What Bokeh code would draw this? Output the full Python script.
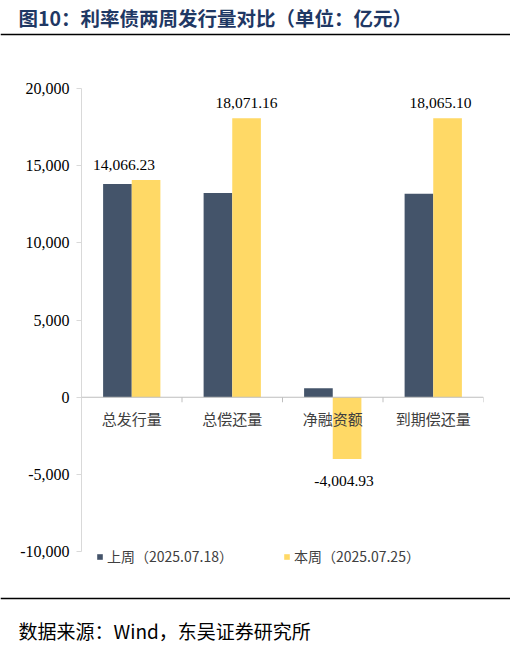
from bokeh.plotting import figure
from bokeh.models import (ColumnDataSource, Range1d, FixedTicker, NumeralTickFormatter,
                          Span, Column)
from bokeh.transform import dodge
from bokeh.core.properties import value
from bokeh.embed import file_html
from bokeh.resources import INLINE

# ---------------- data ----------------
categories = ["总发行量", "总偿还量", "净融资额", "到期偿还量"]
last_week = [13810, 13225, 585, 13180]
this_week = [14066.23, 18071.16, -4004.93, 18065.10]
series_names = ["上周（2025.07.18）", "本周（2025.07.25）"]
y_ticks = [-10000, -5000, 0, 5000, 10000, 15000, 20000]
title_text = "图10：利率债两周发行量对比（单位：亿元）"
source_text = "数据来源：Wind，东吴证券研究所"

# ---------------- style ----------------
DARK = "#44546A"
YELLOW = "#FFD966"
AXIS_GREY = "#D9D9D9"
CJK = "Noto Sans CJK SC"
SERIF = "Liberation Serif"
label_dx = [-22, 0, -3, -7]   # label nudges (px)

W = 510
H_HEAD, H_MAIN, H_FOOT = 48, 542, 56
B_LEFT, B_RIGHT, B_TOP, B_BOTTOM = 81, 27, 40, 8
YMIN, YMAX = -12000, y_ticks[-1]
frame_h = H_MAIN - B_TOP - B_BOTTOM


def blank(h):
    f = figure(width=W, height=h, x_range=Range1d(0, W), y_range=Range1d(h, 0),
               output_backend="svg", toolbar_location=None,
               x_axis_location=None, y_axis_location=None, min_border=0,
               outline_line_color=None)
    f.grid.visible = False
    return f


# ---------------- header ----------------
head = blank(H_HEAD)
head.text(x=[18], y=[17], text=[title_text], text_font=value(CJK), text_font_style="bold",
          text_font_size="19.5px", text_color="#1F3864", text_baseline="middle")
head.add_layout(Span(location=34, dimension="width", line_color="black", line_width=1.5))

# ---------------- main chart ----------------
p = figure(width=W, height=H_MAIN, x_range=categories, y_range=Range1d(YMIN, YMAX),
           output_backend="svg", toolbar_location=None, x_axis_location=None,
           min_border_left=B_LEFT, min_border_right=B_RIGHT,
           min_border_top=B_TOP, min_border_bottom=B_BOTTOM,
           outline_line_color=None)
p.grid.visible = False
p.x_range.range_padding = 0

src = ColumnDataSource(dict(
    cat=categories, last=last_week, this=this_week,
    lbl=[f"{v:,.2f}" for v in this_week],
    yoff=[-15.5 if v >= 0 else 22 for v in this_week],
    xoff=label_dx,
))

bw = 0.285
p.vbar(x=dodge("cat", -bw / 2, range=p.x_range), top="last", bottom=0, width=bw,
       source=src, fill_color=DARK, line_color=None, legend_label=series_names[0])
p.vbar(x=dodge("cat", bw / 2, range=p.x_range), top="this", bottom=0, width=bw,
       source=src, fill_color=YELLOW, line_color=None, legend_label=series_names[1])

# zero line with category boundary ticks
p.add_layout(Span(location=0, dimension="width", line_color="#BFBFBF", line_width=1))
tick_len = (YMAX - YMIN) / frame_h * 5
tsrc = ColumnDataSource(dict(cat=categories, y0=[0] * len(categories),
                             y1=[-tick_len] * len(categories)))
p.segment(x0=dodge("cat", 0.5, range=p.x_range), y0="y0",
          x1=dodge("cat", 0.5, range=p.x_range), y1="y1",
          source=tsrc, line_color="#BFBFBF", line_width=1)

# category labels
p.text(x="cat", y="y0", text="cat", source=tsrc, text_font=value(CJK),
       text_font_size="15px", text_color="#404040", text_align="center",
       text_baseline="middle", y_offset=21)

# data labels for this week
p.text(x=dodge("cat", bw / 2, range=p.x_range), y="this", text="lbl", source=src,
       text_font=value(SERIF), text_font_size="15.5px", text_color="black",
       text_align="center", text_baseline="middle", x_offset="xoff", y_offset="yoff")

ax = p.yaxis[0]
ax.ticker = FixedTicker(ticks=y_ticks)
ax.bounds = (y_ticks[0], y_ticks[-1])
ax.formatter = NumeralTickFormatter(format="0,0")
ax.major_label_text_font = SERIF
ax.major_label_text_font_size = "16px"
ax.major_label_text_color = "black"
ax.axis_line_color = AXIS_GREY
ax.major_tick_line_color = AXIS_GREY
ax.major_tick_out = 5
ax.major_tick_in = 0
ax.minor_tick_line_color = None
ax.major_label_standoff = 7

lg = p.legend[0]
lg.orientation = "horizontal"
lg.location = (15, 16)
lg.background_fill_alpha = 0
lg.border_line_color = None
lg.padding = 0
lg.margin = 0
lg.spacing = 50
lg.label_standoff = 4
lg.label_height = 20
lg.glyph_width = 7
lg.glyph_height = 7
lg.label_text_font = CJK
lg.label_text_font_size = "14px"
lg.label_text_color = "#404040"

# ---------------- footer ----------------
foot = blank(H_FOOT)
foot.add_layout(Span(location=8, dimension="width", line_color="black", line_width=1.5))
foot.text(x=[18], y=[40], text=[source_text], text_font=value(CJK),
          text_font_size="19px", text_color="black", text_baseline="middle")

layout = Column(children=[Column(children=[head]), Column(children=[p]),
                          Column(children=[foot])], spacing=0)
open("out.html", "w").write(file_html(layout, INLINE))
